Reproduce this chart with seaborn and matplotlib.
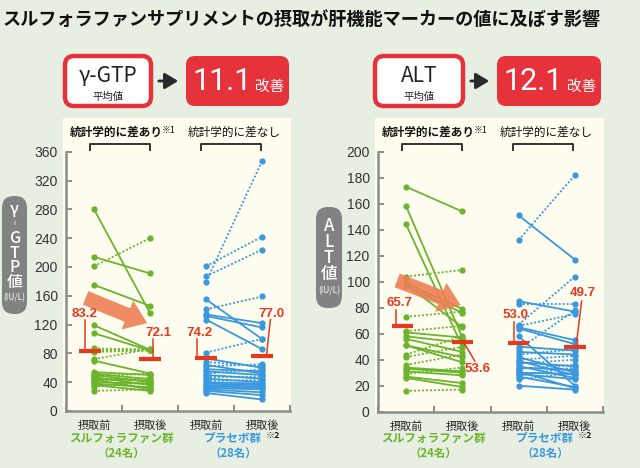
import matplotlib
matplotlib.use("Agg")
import matplotlib.pyplot as plt
import seaborn as sns
import pandas as pd
from matplotlib.patches import FancyBboxPatch, Rectangle, FancyArrowPatch
from matplotlib.transforms import IdentityTransform
from matplotlib.lines import Line2D

plt.rcParams['font.family'] = ['Noto Sans CJK JP', 'DejaVu Sans']

# ---------------- data ----------------
time_labels = ["摂取前", "摂取後", "摂取前", "摂取後"]
group_names = ["スルフォラファン群", "プラセボ群"]
group_counts = ["（24名）", "（28名）"]

ggtp_sulfo_pre = [280, 175, 214, 201, 119, 108, 87, 84, 82, 72, 70, 54, 52, 50, 48, 47, 45, 44, 42, 40, 38, 36, 34, 28]
ggtp_sulfo_post = [136, 146, 191, 240, 85, 84, 85, 86, 84, 86, 52, 50, 44, 40, 52, 36, 42, 30, 46, 38, 33, 28, 40, 30]
ggtp_sulfo_up = [0, 0, 0, 1, 0, 0, 1, 1, 1, 1, 0, 0, 0, 0, 1, 0, 0, 0, 1, 0, 0, 0, 1, 1]

ggtp_plac_pre = [179, 201, 187, 155, 141, 134, 132, 127, 81, 73, 68, 64, 62, 58, 55, 52, 50, 47, 45, 42, 40, 38, 36, 34, 32, 30, 28, 25]
ggtp_plac_post = [347, 242, 224, 100, 159, 122, 116, 86, 100, 60, 62, 52, 65, 55, 50, 58, 45, 48, 40, 43, 38, 36, 34, 32, 30, 26, 22, 16]
ggtp_plac_up = [1, 1, 1, 0, 1, 0, 0, 0, 1, 0, 1, 0, 1, 0, 0, 1, 0, 1, 0, 1, 0, 0, 0, 0, 0, 0, 0, 0]

alt_sulfo_pre = [173, 158, 144, 104, 99, 97, 98, 73, 62, 61, 58, 56, 51, 51, 44, 42, 36, 34, 33, 31, 29, 27, 26, 16]
alt_sulfo_post = [154, 57, 50, 109, 79, 76, 65, 77, 66, 57, 53, 46, 42, 38, 58, 50, 44, 31, 30, 28, 34, 22, 19, 17]
alt_sulfo_up = [0, 0, 0, 1, 0, 0, 0, 1, 1, 0, 0, 0, 0, 0, 1, 1, 1, 0, 0, 0, 1, 0, 0, 1]

alt_plac_pre = [151, 132, 85, 83, 67, 66, 65, 64, 58, 50, 48, 46, 44, 42, 40, 39, 38, 37, 35, 34, 33, 31, 30, 29, 28, 27, 25, 20]
alt_plac_post = [117, 182, 77, 83, 104, 75, 55, 52, 20, 47, 78, 44, 48, 30, 43, 28, 35, 40, 26, 32, 36, 18, 29, 25, 34, 19, 30, 17]
alt_plac_up = [0, 1, 0, 1, 1, 1, 0, 0, 0, 0, 1, 0, 1, 0, 1, 0, 0, 1, 0, 0, 1, 0, 0, 0, 1, 0, 1, 0]

ggtp_means = [83.2, 72.1, 74.2, 77.0]
alt_means = [65.7, 53.6, 53.0, 49.7]
improve = ["11.1", "12.1"]

# ---------------- style ----------------
BG = '#e6efe2'
CREAM = '#fefdef'
GREEN = '#6cb42c'
BLUE = '#3a98de'
RED = '#e8381e'
BOXRED = '#e6333b'
SALMON = '#ef7d52'
AXC = '#8c8c8c'
W, H = 640, 468


def fx(x):
    return x / W


def fy(y):
    return 1 - y / H


fig = plt.figure(figsize=(6.4, 4.68), dpi=100, facecolor=BG)

# title
fig.text(fx(3), fy(19), "スルフォラファンサプリメントの摂取が肝機能マーカーの値に及ぼす影響",
         fontsize=13.1, fontweight='bold', color='#111', ha='left', va='center')


def rbox(x0, y0, x1, y1, fc, ec='none', lw=0, r=8, z=1):
    p = FancyBboxPatch((x0, H - y1), x1 - x0, y1 - y0,
                       boxstyle=f"round,pad=0,rounding_size={r}",
                       fc=fc, ec=ec, lw=lw, transform=IdentityTransform(), zorder=z)
    fig.add_artist(p)


def header(xw0, xw1, xr0, xr1, name, val):
    rbox(xw0, 56, xw1, 106, 'white', BOXRED, 3.2, 9)
    fig.text(fx((xw0 + xw1) / 2), fy(76), name, fontsize=15, ha='center', va='center', color='#222')
    fig.text(fx((xw0 + xw1) / 2), fy(97), "平均値", fontsize=7.5, ha='center', va='center', color='#222')
    arr = FancyArrowPatch((xw1 + 5, H - 81), (xr0 - 5, H - 81), transform=IdentityTransform(),
                          arrowstyle='-|>,head_length=0.5,head_width=0.3', mutation_scale=16,
                          lw=2, color='#2a2a2a')
    fig.add_artist(arr)
    rbox(xr0, 56, xr1, 106, BOXRED, 'none', 0, 9)
    fig.text(fx(xr0 + 6), fy(82), val, fontsize=22, ha='left', va='center', color='white',
             family=['Roboto', 'DejaVu Sans'])
    fig.text(fx(xr1 - 5), fy(87), "改善", fontsize=10.5, ha='right', va='center', color='white')


header(65, 151, 186, 289, "γ-GTP", improve[0])
header(375, 463, 497, 601, "ALT", improve[1])

# cream panels
for x0, x1 in [(63, 291), (375, 604)]:
    fig.add_artist(Rectangle((fx(x0), fy(412)), (x1 - x0) / W, (412 - 118) / H,
                             transform=fig.transFigure, fc=CREAM, ec='none', zorder=-10))

# y-label pills
rbox(2, 196, 27, 314, '#828282', r=12, z=2)
fig.text(fx(14.5), fy(246), "γ\n︲\nG\nT\nP\n値", fontsize=11.5, ha='center', va='center',
         color='white', linespacing=0.82, fontweight='medium')
fig.text(fx(14), fy(298), "(IU/L)", fontsize=6, ha='center', va='center', color='white')

rbox(316, 207, 342, 308, '#828282', r=12, z=2)
fig.text(fx(329), fy(250), "A\nL\nT\n値", fontsize=12, ha='center', va='center',
         color='white', linespacing=0.86, fontweight='medium')
fig.text(fx(329), fy(291), "(IU/L)", fontsize=6, ha='center', va='center', color='white')


def make_df(pre, post, up, grp, base):
    rows = []
    for i, (a, b, u) in enumerate(zip(pre, post, up)):
        k = 'dotted' if u else 'solid'
        rows.append(dict(subject=f"{grp}{i}", group=grp, kind=k, pos=base, value=a))
        rows.append(dict(subject=f"{grp}{i}", group=grp, kind=k, pos=base + 1, value=b))
    return pd.DataFrame(rows)


def panel(rect, ymax, ystep, s_pre, s_post, s_up, p_pre, p_post, p_up, means):
    ax = fig.add_axes(rect)
    ax.set_facecolor('none')
    df = pd.concat([make_df(s_pre, s_post, s_up, 'sulfo', 0),
                    make_df(p_pre, p_post, p_up, 'plac', 2)], ignore_index=True)
    sns.lineplot(data=df, x='pos', y='value', hue='group', style='kind', units='subject',
                 estimator=None, sort=False, palette={'sulfo': GREEN, 'plac': BLUE},
                 dashes={'solid': '', 'dotted': (1.1, 1.1)},
                 markers={'solid': 'o', 'dotted': 'o'}, markersize=4.5, markeredgewidth=0,
                 linewidth=1.3, legend=False, ax=ax)
    ax.set_xlim(-0.5, 3.5)
    ax.set_ylim(0, ymax)
    ax.set_yticks(range(0, ymax + 1, ystep))
    ax.set_xticks([0, 1, 2, 3])
    ax.set_xticklabels(time_labels, fontsize=8, color='#222')
    ax.set_xticks([-0.5, 0.5, 1.5, 2.5, 3.5], minor=True)
    ax.tick_params(axis='x', which='major', length=0, pad=7)
    ax.tick_params(axis='x', which='minor', direction='in', length=4, width=1.4, color=AXC)
    ax.tick_params(axis='y', direction='in', length=4, width=1.4, color=AXC, pad=6,
                   labelsize=10, labelcolor='#333')
    for lab in ax.get_yticklabels():
        lab.set_family(['Liberation Sans', 'DejaVu Sans'])
    ax.set_xlabel('')
    ax.set_ylabel('')
    for s in ['top', 'right']:
        ax.spines[s].set_visible(False)
    for s in ['left', 'bottom']:
        ax.spines[s].set_color(AXC)
        ax.spines[s].set_linewidth(1.8)
    # mean bars
    centers = [-0.07, 1, 2, 3]
    for c, m in zip(centers, means):
        ax.hlines(m, c - 0.19, c + 0.19, color=RED, lw=3, zorder=6)
    return ax


ax1 = panel([66 / W, 1 - 411 / H, 224 / W, (411 - 151.7) / H], 360, 40,
            ggtp_sulfo_pre, ggtp_sulfo_post, ggtp_sulfo_up,
            ggtp_plac_pre, ggtp_plac_post, ggtp_plac_up, ggtp_means)
ax2 = panel([378 / W, 1 - 411.7 / H, 225 / W, (411.7 - 151.7) / H], 200, 20,
            alt_sulfo_pre, alt_sulfo_post, alt_sulfo_up,
            alt_plac_pre, alt_plac_post, alt_plac_up, alt_means)

LBL = dict(fontsize=9.5, fontweight='bold', color=RED, ha='center', va='center',
           family=['Liberation Sans', 'DejaVu Sans'], zorder=7)
LL = dict(color=RED, lw=1.1, zorder=6, clip_on=False)

# gamma-GTP labels
m = ggtp_means
ax1.text(-0.16, 135, f"{m[0]:.1f}", **LBL)
ax1.plot([-0.16, -0.16], [m[0], 126], **LL)
ax1.text(1.15, 108, f"{m[1]:.1f}", **LBL)
ax1.plot([1.05, 1.05], [m[1], 100], **LL)
ax1.text(1.89, 108, f"{m[2]:.1f}", **LBL)
ax1.plot([1.84, 1.84], [m[2], 100], **LL)
ax1.text(3.16, 135, f"{m[3]:.1f}", **LBL)
ax1.plot([3.15, 3.08], [127, m[3]], **LL)

m = alt_means
ax2.text(-0.11, 84, f"{m[0]:.1f}", **LBL)
ax2.plot([-0.18, -0.18], [m[0], 78], **LL)
ax2.text(1.27, 33, f"{m[1]:.1f}", **LBL)
ax2.plot([1.02, 1.22], [m[1], 39], **LL)
ax2.text(1.95, 74.5, f"{m[2]:.1f}", **LBL)
ax2.plot([1.91, 1.91], [m[2], 69], **LL)
ax2.text(3.15, 91, f"{m[3]:.1f}", **LBL)
ax2.plot([3.12, 3.02], [85, m[3]], **LL)

# big arrows
AP = dict(arrowstyle='simple,head_length=1.1,head_width=1.6,tail_width=0.75',
          fc=SALMON, ec='none', alpha=0.88, mutation_scale=14, shrinkA=0, shrinkB=0)
ax1.annotate('', xy=(0.95, 122), xytext=(-0.15, 157), arrowprops=AP, zorder=4)
ax2.annotate('', xy=(0.97, 82), xytext=(-0.16, 101), arrowprops=AP, zorder=4)

# significance brackets
BR = '#333333'


def bracket(x0, x1):
    fig.add_artist(Line2D([fx(x0), fx(x0), fx(x1), fx(x1)], [fy(150), fy(143.5), fy(143.5), fy(150)],
                          transform=fig.transFigure, color=BR, lw=1.4))


for x0, x1 in [(90, 150), (201, 261), (402, 462), (513, 573)]:
    bracket(x0, x1)

for x_sig, x_ns in [(70, 188), (382, 500)]:
    fig.text(fx(x_sig), fy(132), "統計学的に差あり", fontsize=8.4, fontweight='bold',
             ha='left', va='center', color='#111')
    fig.text(fx(x_sig + 92), fy(130), "※1", fontsize=6.5, ha='left', va='center', color='#111')
    fig.text(fx(x_ns), fy(132), "統計学的に差なし", fontsize=8.4, ha='left', va='center', color='#111')

# group labels
for cs, cp in [(121, 233), (433, 545)]:
    fig.text(fx(cs), fy(438), group_names[0], fontsize=8.4, fontweight='bold', color=GREEN,
             ha='center', va='center')
    fig.text(fx(cs), fy(453), group_counts[0], fontsize=8.2, fontweight='bold', color=GREEN,
             ha='center', va='center')
    fig.text(fx(cp), fy(438), group_names[1], fontsize=8.4, fontweight='bold', color=BLUE,
             ha='center', va='center')
    fig.text(fx(cp + 33), fy(435), "※2", fontsize=6.5, fontweight='bold', color='#222',
             ha='left', va='center')
    fig.text(fx(cp), fy(453), group_counts[1], fontsize=8.2, fontweight='bold', color=BLUE,
             ha='center', va='center')

fig.savefig('out.png', dpi=100, facecolor=BG)
